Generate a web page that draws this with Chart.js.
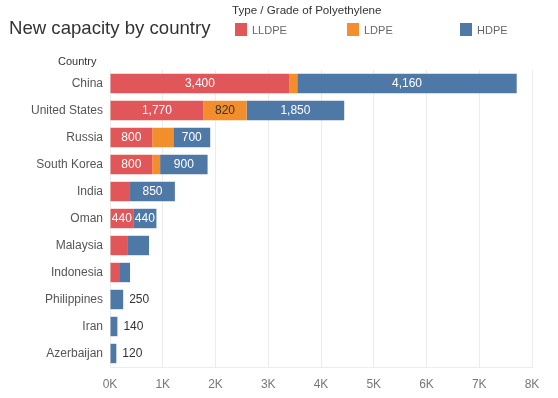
<!DOCTYPE html>
<html>
<head>
<meta charset="utf-8">
<script src="https://cdn.jsdelivr.net/npm/chart.js@4/dist/chart.umd.min.js"></script>
<style>
  body { margin: 0; background: #fff; }
  #wrap { position: relative; width: 558px; height: 398px; font-family: "Liberation Sans", Arial, sans-serif; }
  #chart { position: absolute; left: 0; top: 0; }
  .title { position: absolute; left: 9px; top: 17px; font-size: 18.6px; color: #333; white-space: nowrap; }
  .ltitle { position: absolute; left: 232px; top: 3px; font-size: 11.6px; color: #333; white-space: nowrap; }
  .item { position: absolute; top: 23px; font-size: 11px; color: #666; white-space: nowrap; line-height: 13px; }
  .item i { display: inline-block; width: 12px; height: 13px; vertical-align: -2px; margin-right: 5px; }
  .country { position: absolute; left: 58px; top: 55px; font-size: 11px; color: #333; }
</style>
</head>
<body>
<div id="wrap">
  <canvas id="chart" width="558" height="398"></canvas>
  <div class="title">New capacity by country</div>
  <div class="ltitle">Type / Grade of Polyethylene</div>
  <div class="item" style="left:235px"><i style="background:#E15759"></i>LLDPE</div>
  <div class="item" style="left:347px"><i style="background:#F28E2B"></i>LDPE</div>
  <div class="item" style="left:460px"><i style="background:#4E79A7"></i>HDPE</div>
  <div class="country">Country</div>
</div>
<script>
    "use strict";

    // data (kt / year)
    var countries = ["China", "United States", "Russia", "South Korea", "India", "Oman",
                     "Malaysia", "Indonesia", "Philippines", "Iran", "Azerbaijan"];
    var lldpe = [3400, 1770, 800, 800, 380, 440, 340, 190, null, null, null];
    var ldpe  = [150, 820, 400, 150, null, null, null, null, null, null, null];
    var hdpe  = [4160, 1850, 700, 900, 850, 440, 400, 190, 250, 140, 120];
    var xTicks = [0, 1000, 2000, 3000, 4000, 5000, 6000, 7000, 8000];

    var seriesColors = ["#E15759", "#F28E2B", "#4E79A7"];
    var textColors = ["#fff", "#333", "#fff"];

    // value labels: inside when the segment is wide enough, outside for single-segment rows
    var barLabels = {
        id: "barLabels",
        afterDatasetsDraw: function (chart) {
            var ctx = chart.ctx;
            var sets = chart.data.datasets;
            ctx.save();
            ctx.font = "12px 'Liberation Sans', Arial, sans-serif";
            ctx.textBaseline = "middle";
            sets.forEach(function (ds, di) {
                var meta = chart.getDatasetMeta(di);
                meta.data.forEach(function (bar, i) {
                    var v = ds.data[i];
                    if (v == null) return;
                    var parts = sets.filter(function (s) { return s.data[i] != null; }).length;
                    var txt = v.toLocaleString("en-US");
                    if (parts === 1 && v < 440) {
                        ctx.fillStyle = "#333";
                        ctx.textAlign = "left";
                        ctx.fillText(txt, bar.x + 6, bar.y);
                    } else if (v >= 440) {
                        ctx.fillStyle = textColors[di];
                        ctx.textAlign = "center";
                        ctx.fillText(txt, (bar.x + bar.base) / 2, bar.y);
                    }
                });
            });
            ctx.restore();
        }
    };

    new Chart(document.getElementById("chart"), {
        type: "bar",
        data: {
            labels: countries,
            datasets: [
                { label: "LLDPE", data: lldpe, backgroundColor: seriesColors[0] },
                { label: "LDPE", data: ldpe, backgroundColor: seriesColors[1] },
                { label: "HDPE", data: hdpe, backgroundColor: seriesColors[2] }
            ]
        },
        options: {
            indexAxis: "y",
            responsive: false,
            animation: false,
            layout: { padding: { top: 70, right: 26, left: 0, bottom: 0 } },
            categoryPercentage: 1,
            barPercentage: 0.72,
            plugins: {
                legend: { display: false },
                title: { display: false },
                tooltip: { enabled: false }
            },
            scales: {
                x: {
                    stacked: true,
                    min: 0,
                    max: 8000,
                    afterBuildTicks: function (scale) {
                        scale.ticks = xTicks.map(function (v) { return { value: v }; });
                    },
                    afterFit: function (scale) { scale.height = 31; },
                    grid: { color: "#ececec", drawTicks: false },
                    border: { color: "#ececec" },
                    ticks: {
                        padding: 10,
                        color: "#777",
                        font: { family: "'Liberation Sans', Arial, sans-serif", size: 12 },
                        callback: function (v) { return (v / 1000) + "K"; }
                    }
                },
                y: {
                    stacked: true,
                    afterFit: function (scale) { scale.width = 110; },
                    grid: { display: false, drawTicks: false },
                    border: { display: false },
                    ticks: {
                        padding: 7,
                        color: "#555",
                        font: { family: "'Liberation Sans', Arial, sans-serif", size: 12 }
                    }
                }
            }
        },
        plugins: [barLabels]
    });
</script>
</body>
</html>
